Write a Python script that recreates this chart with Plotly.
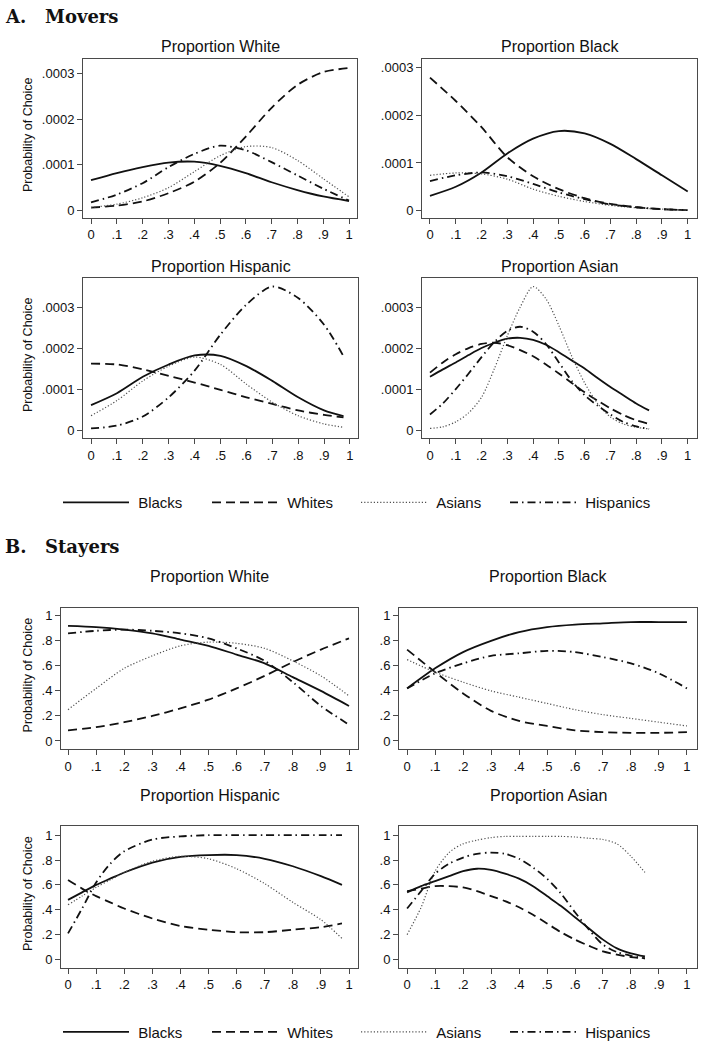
import numpy as np
import plotly.graph_objects as go

# ---------------- DATA ----------------
series_names = ["Blacks", "Whites", "Asians", "Hispanics"]

x_ticks = [0, .1, .2, .3, .4, .5, .6, .7, .8, .9, 1]
x_tick_labels = ["0", ".1", ".2", ".3", ".4", ".5", ".6", ".7", ".8", ".9", "1"]
ya_ticks = [0, .0001, .0002, .0003]
ya_tick_labels = ["0", ".0001", ".0002", ".0003"]
yb_ticks = [0, .2, .4, .6, .8, 1]
yb_tick_labels = ["0", ".2", ".4", ".6", ".8", "1"]

# Panel A (Movers) -- values in units of 1e-4
a_white_x = [0, .1, .2, .3, .4, .5, .6, .7, .8, .9, 1]
a_white_blacks = [.665, .82, .95, 1.05, 1.07, .98, .82, .62, .45, .31, .21]
a_white_whites = [.065, .11, .2, .38, .63, 1.04, 1.62, 2.25, 2.75, 3.03, 3.12]
a_white_asians = [.07, .14, .28, .5, .85, 1.2, 1.4, 1.38, 1.1, .7, .3]
a_white_hispanics = [.18, .35, .6, .95, 1.24, 1.42, 1.32, 1.06, .77, .48, .22]

a_black_x = [0, .1, .2, .3, .4, .5, .6, .7, .8, .9, 1]
a_black_blacks = [.31, .5, .8, 1.2, 1.51, 1.67, 1.62, 1.4, 1.08, .74, .4]
a_black_whites = [2.79, 2.3, 1.75, 1.12, .72, .45, .26, .14, .07, .03, .01]
a_black_asians = [.74, .79, .77, .66, .45, .3, .19, .11, .06, .03, .01]
a_black_hispanics = [.62, .74, .8, .72, .56, .38, .24, .13, .07, .03, .01]

a_hisp_x = [0, .1, .2, .3, .4, .5, .6, .7, .8, .9, .975]
a_hisp_blacks = [.61, .9, 1.3, 1.6, 1.82, 1.81, 1.56, 1.2, .8, .48, .34]
a_hisp_whites = [1.62, 1.6, 1.48, 1.32, 1.16, .98, .8, .64, .48, .37, .31]
a_hisp_asians = [.35, .72, 1.2, 1.56, 1.78, 1.6, 1.12, .68, .35, .15, .07]
a_hisp_hispanics = [.04, .11, .33, .8, 1.45, 2.33, 3.06, 3.5, 3.22, 2.57, 1.8]

a_asian_x = [0, .05, .1, .15, .2, .25, .3, .35, .4, .45, .5, .55, .6, .65, .7, .75, .8, .85]
a_asian_blacks = [1.3, 1.48, 1.65, 1.83, 2.0, 2.13, 2.23, 2.25, 2.2, 2.08, 1.9, 1.7, 1.5, 1.27, 1.05, .85, .65, .48]
a_asian_whites = [1.4, 1.65, 1.85, 2.0, 2.1, 2.13, 2.07, 1.95, 1.8, 1.6, 1.38, 1.15, .92, .72, .53, .37, .24, .15]
a_asian_asians = [.04, .08, .2, .42, .8, 1.5, 2.3, 3.0, 3.5, 3.2, 2.55, 1.8, 1.15, .65, .32, .15, .07, .03]
a_asian_hispanics = [.38, .65, 1.0, 1.38, 1.78, 2.15, 2.42, 2.52, 2.4, 2.1, 1.65, 1.2, .85, .6, .38, .2, .09, .03]

# Panel B (Stayers)
b_white_x = [0, .1, .2, .3, .4, .5, .6, .7, .8, .9, 1]
b_white_blacks = [.92, .91, .89, .86, .81, .76, .69, .62, .51, .40, .28]
b_white_whites = [.085, .11, .15, .2, .26, .33, .42, .52, .63, .73, .82]
b_white_asians = [.25, .42, .58, .68, .76, .79, .78, .74, .64, .52, .36]
b_white_hispanics = [.86, .88, .89, .88, .86, .82, .74, .64, .47, .28, .13]

b_black_x = [0, .1, .2, .3, .4, .5, .6, .7, .8, .9, 1]
b_black_blacks = [.42, .58, .71, .8, .87, .91, .93, .94, .95, .95, .95]
b_black_whites = [.73, .55, .38, .24, .16, .12, .085, .07, .065, .065, .07]
b_black_asians = [.65, .55, .47, .40, .35, .30, .25, .21, .18, .15, .12]
b_black_hispanics = [.42, .54, .62, .68, .70, .72, .71, .67, .62, .54, .42]

b_hisp_x = [0, .05, .1, .15, .2, .3, .4, .5, .6, .7, .8, .9, .975]
b_hisp_blacks = [.48, .54, .6, .65, .70, .78, .825, .84, .84, .81, .75, .67, .60]
b_hisp_whites = [.64, .57, .51, .46, .41, .33, .27, .24, .22, .22, .24, .26, .29]
b_hisp_asians = [.44, .51, .58, .64, .70, .79, .83, .81, .73, .61, .46, .32, .17]
b_hisp_hispanics = [.21, .41, .62, .77, .87, .965, .99, 1.0, 1.0, 1.0, 1.0, 1.0, 1.0]

b_asian_x = [0, .05, .1, .15, .2, .25, .3, .35, .4, .45, .5, .55, .6, .65, .7, .75, .8, .85]
b_asian_blacks = [.54, .59, .63, .67, .71, .73, .72, .69, .65, .59, .51, .43, .34, .25, .16, .09, .05, .025]
b_asian_whites = [.55, .57, .59, .59, .58, .55, .51, .47, .42, .36, .29, .22, .16, .11, .065, .04, .02, .01]
b_asian_asians = [.2, .42, .71, .86, .93, .96, .98, .99, .99, .99, .99, .99, .985, .975, .965, .93, .83, .70]
b_asian_hispanics = [.41, .55, .69, .77, .82, .85, .86, .85, .81, .74, .65, .53, .38, .24, .12, .06, .03, .01]

subplot_titles = ["Proportion White", "Proportion Black", "Proportion Hispanic", "Proportion Asian"]
panel_labels = [("A.", "Movers"), ("B.", "Stayers")]
y_title = "Probability of Choice"

# ---------------- LAYOUT HELPERS ----------------
W, H = 705, 1049
FONT = "Liberation Sans, Arial, Helvetica, sans-serif"
AXC = "#4a4a4a"


def px_x(p):
    return p / W


def px_y(p):
    return 1 - p / H


styles = {
    "Blacks": dict(color="#111111", width=1.8, dash="solid"),
    "Whites": dict(color="#111111", width=1.8, dash="9px,5px"),
    "Asians": dict(color="#505050", width=1.2, dash="1.2px,2px"),
    "Hispanics": dict(color="#111111", width=1.8, dash="8px,4px,1.5px,4px"),
}

panels = [
    dict(box=(83, 357, 59, 219), yr=(-0.152e-4, 3.326e-4), xr=(-0.031, 1.031), kind="A",
         x=a_white_x, ys=[a_white_blacks, a_white_whites, a_white_asians, a_white_hispanics], title=0, legend="legend"),
    dict(box=(422, 697, 59, 219), yr=(-0.146e-4, 3.19e-4), xr=(-0.031, 1.036), kind="A",
         x=a_black_x, ys=[a_black_blacks, a_black_whites, a_black_asians, a_black_hispanics], title=1, legend=None),
    dict(box=(83, 358, 280, 441), yr=(-0.194e-4, 3.705e-4), xr=(-0.031, 1.031), kind="A",
         x=a_hisp_x, ys=[a_hisp_blacks, a_hisp_whites, a_hisp_asians, a_hisp_hispanics], title=2, legend=None),
    dict(box=(422, 697, 280, 441), yr=(-0.194e-4, 3.705e-4), xr=(-0.031, 1.036), kind="A",
         x=a_asian_x, ys=[a_asian_blacks, a_asian_whites, a_asian_asians, a_asian_hispanics], title=3, legend=None),
    dict(box=(61, 358, 612, 754), yr=(-0.064, 1.063), xr=(-0.025, 1.032), kind="B",
         x=b_white_x, ys=[b_white_blacks, b_white_whites, b_white_asians, b_white_hispanics], title=0, legend="legend2"),
    dict(box=(399, 697, 612, 754), yr=(-0.064, 1.063), xr=(-0.029, 1.036), kind="B",
         x=b_black_x, ys=[b_black_blacks, b_black_whites, b_black_asians, b_black_hispanics], title=1, legend=None),
    dict(box=(61, 358, 832, 974), yr=(-0.064, 1.07), xr=(-0.025, 1.032), kind="B",
         x=b_hisp_x, ys=[b_hisp_blacks, b_hisp_whites, b_hisp_asians, b_hisp_hispanics], title=2, legend=None),
    dict(box=(399, 697, 832, 974), yr=(-0.064, 1.07), xr=(-0.029, 1.036), kind="B",
         x=b_asian_x, ys=[b_asian_blacks, b_asian_whites, b_asian_asians, b_asian_hispanics], title=3, legend=None),
]
title_y = [47, 47, 268, 268, 580, 580, 801, 801]

fig = go.Figure()
layout = dict(
    width=W, height=H, margin=dict(l=0, r=0, t=0, b=0),
    paper_bgcolor="white", plot_bgcolor="white",
    font=dict(family=FONT, size=13, color="#111111"),
    annotations=[],
)

for i, p in enumerate(panels):
    n = i + 1
    xa = "x" if n == 1 else f"x{n}"
    ya = "y" if n == 1 else f"y{n}"
    l, r, t, b = p["box"]
    scale = 1e-4 if p["kind"] == "A" else 1.0
    for name, yv in zip(series_names, p["ys"]):
        yarr = np.array(yv) * scale
        show = p["legend"] is not None
        tr = go.Scatter(
            x=p["x"], y=yarr, mode="lines", name="\u00a0" + name,
            line=dict(shape="spline", smoothing=0.8, **styles[name]),
            xaxis=xa, yaxis=ya, showlegend=show, hoverinfo="skip",
        )
        if show:
            tr.legend = p["legend"]
        fig.add_trace(tr)
    axis_common = dict(
        showline=True, mirror=True, linecolor=AXC, linewidth=1,
        ticks="outside", ticklen=5, tickcolor=AXC, tickwidth=1,
        showgrid=False, zeroline=False, tickfont=dict(size=13, family=FONT, color="#111111"),
    )
    layout[f"xaxis{n}"] = dict(
        domain=[px_x(l), px_x(r)], anchor=ya, range=list(p["xr"]),
        tickmode="array", tickvals=x_ticks, ticktext=x_tick_labels, **axis_common,
    )
    if p["kind"] == "A":
        tv, tt = ya_ticks, ya_tick_labels
    else:
        tv, tt = yb_ticks, yb_tick_labels
    layout[f"yaxis{n}"] = dict(
        domain=[px_y(b), px_y(t)], anchor=xa, range=list(p["yr"]),
        tickmode="array", tickvals=tv, ticktext=tt, **axis_common,
    )
    layout["annotations"].append(dict(
        text=subplot_titles[p["title"]], x=px_x((l + r) / 2), y=px_y(title_y[i]),
        xref="paper", yref="paper", xanchor="center", yanchor="middle",
        showarrow=False, font=dict(size=16, family=FONT, color="#111111"),
    ))
    if p["title"] in (0, 2):
        layout["annotations"].append(dict(
            text=y_title, x=px_x(28), y=px_y((t + b) / 2 - 3),
            xref="paper", yref="paper", xanchor="center", yanchor="middle",
            textangle=-90, showarrow=False, font=dict(size=12.5, family=FONT, color="#111111"),
        ))

for (lab, word), yy in zip(panel_labels, [17, 550]):
    layout["annotations"].append(dict(
        text=f"<b>{lab}</b>", x=px_x(3), y=px_y(yy), xref="paper", yref="paper",
        xanchor="left", yanchor="middle", showarrow=False,
        font=dict(size=18, family="DejaVu Serif, serif", color="#111111"),
    ))
    layout["annotations"].append(dict(
        text=f"<b>{word}</b>", x=px_x(43), y=px_y(yy), xref="paper", yref="paper",
        xanchor="left", yanchor="middle", showarrow=False,
        font=dict(size=18, family="DejaVu Serif, serif", color="#111111"),
    ))

legend_common = dict(
    orientation="h", xanchor="left", yanchor="middle",
    bgcolor="rgba(0,0,0,0)", borderwidth=0,
    font=dict(size=15, family=FONT, color="#111111"),
    itemwidth=66, entrywidth=68, entrywidthmode="pixels",
    itemclick=False, itemdoubleclick=False,
)
layout["legend"] = dict(x=px_x(58), y=px_y(506), **legend_common)
layout["legend2"] = dict(x=px_x(58), y=px_y(1039), **legend_common)

fig.update_layout(**layout)
fig.write_html(
    "out.html",
    config={"displayModeBar": False},
    post_script="document.body.style.margin='0';document.body.style.overflow='hidden';",
)
